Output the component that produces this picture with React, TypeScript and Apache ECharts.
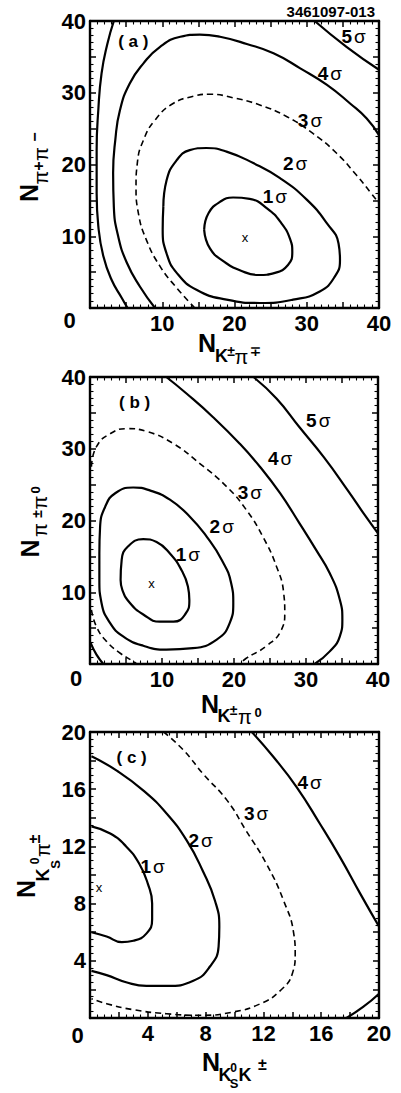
import React, { useEffect, useRef } from 'react';
import * as echarts from 'echarts';

const W = 401;
const H = 1093;
const FONT = 'Liberation Sans, Arial, Helvetica, DejaVu Sans, sans-serif';

// ---------- Panel (a) ----------
const a1: number[][] = [[15.8,10.9],[16.4,13.2],[18.0,14.8],[19.8,15.4],[22.1,15.2],[24.5,13.9],[26.5,11.8],[27.7,9.6],[28.0,7.8],[27.4,6.0],[25.6,4.9],[23.3,4.6],[20.9,5.2],[18.5,6.5],[16.6,8.3],[15.8,10.9]];
const a2: number[][] = [[10.15,14.1],[10.6,17.8],[12.0,20.6],[13.8,22.0],[16.1,22.3],[18.9,21.8],[22.6,20.2],[26.3,18.1],[30.0,15.1],[32.8,11.8],[34.4,9.0],[34.6,6.7],[33.9,4.4],[31.8,2.3],[28.1,1.16],[23.5,0.7],[18.9,1.16],[14.8,2.5],[12.0,4.9],[10.6,7.6],[10.06,10.9],[10.15,14.1]];
const a3: number[][] = [[14.5,0],[12.0,2.8],[9.7,5.8],[7.8,9.5],[6.7,13.2],[6.37,16.9],[6.55,20.2],[7.4,23.4],[9.0,26.2],[11.5,28.5],[14.3,29.5],[16.6,29.8],[19.8,29.3],[23.5,28.3],[27.2,26.7],[30.9,24.3],[34.1,21.6],[36.9,18.5],[38.75,16.2],[40,14.6]];
const a4: number[][] = [[9.0,0],[6.9,3.0],[5.1,6.3],[3.9,10.0],[3.3,14.1],[3.2,18.8],[3.5,23.4],[4.15,27.6],[5.5,31.3],[7.4,34.1],[9.7,36.4],[12.5,37.8],[15.2,38.1],[18.0,37.8],[21.7,36.8],[25.4,35.5],[29.1,33.4],[32.8,31.1],[36.0,28.5],[38.3,26.4],[40,24.1]];
const a5left: number[][] = [[3.3,40],[2.4,36.8],[1.6,32.7],[1.15,27.6],[0.92,22.0],[0.92,16.0],[1.15,11.4],[1.85,7.2],[3.0,3.9],[4.4,1.4],[5.2,0]];
const a5right: number[][] = [[31.1,40],[35.5,36.4],[40,33.2]];
const labelsA: (number | string)[][] = [[36.5,37.8,'5'],[33.2,32.7,'4'],[30.45,26.2,'3'],[28.4,20.2,'2'],[25.6,15.5,'1']];
const bestA: number[] = [21.45, 9.87];
const tagA: (number | string)[] = [6.0, 37.1, '( a )'];

// ---------- Panel (b) ----------
const b1: number[][] = [[4.25,11.7],[4.4,14.5],[5.3,16.4],[7.4,17.4],[9.25,17.0],[11.1,15.4],[12.7,13.1],[13.6,10.8],[13.8,8.9],[13.2,6.9],[11.6,5.9],[9.7,5.9],[7.4,6.9],[5.55,8.5],[4.5,10.3],[4.25,11.7]];
const b2: number[][] = [[1.3,15.4],[1.4,19.1],[2.1,21.9],[3.5,23.8],[6.0,24.6],[8.3,24.2],[11.1,22.9],[13.9,20.5],[16.2,17.75],[18.3,14.5],[19.6,11.3],[19.9,8.5],[19.4,5.7],[17.6,3.4],[14.3,2.2],[10.6,2.0],[7.4,2.55],[4.6,3.85],[2.8,5.7],[1.6,8.5],[1.3,11.7],[1.3,15.4]];
const b3main: number[][] = [[0.2,27.5],[0.9,30.3],[2.8,32.1],[5.1,32.8],[7.9,32.4],[11.6,30.7],[15.3,27.9],[19.0,24.7],[21.7,21.5],[24.0,17.75],[25.9,13.6],[26.9,9.9],[27.05,7.1],[26.6,4.8],[24.5,2.5],[21.7,0.8],[20.8,0]];
const b3low: number[][] = [[0.2,7.55],[0.9,5.2],[2.3,3.15],[4.2,1.5],[6.0,0.37],[6.5,0]];
const b4main: number[][] = [[10.6,40],[13.4,37.7],[17.1,34.4],[20.8,30.7],[23.6,27.5],[26.4,23.8],[29.1,19.6],[31.4,15.9],[33.3,12.65],[34.7,8.95],[35.05,6.2],[34.7,3.85],[33.3,1.76],[31.2,0]];
const b4low: number[][] = [[0.1,2.9],[0.9,1.3],[1.85,0]];
const b5: number[][] = [[22.7,40],[25.9,37.0],[29.1,33.0],[32.5,28.8],[35.8,24.2],[38.2,20.7],[40,18.2]];
const labelsB: (number | string)[][] = [[31.7,33.9,'5'],[26.4,28.7,'4'],[22.2,23.9,'3'],[18.3,19.2,'2'],[13.6,15.3,'1']];
const bestB: number[] = [8.55, 11.2];
const tagB: (number | string)[] = [6.2, 36.4, '( b )'];

// ---------- Panel (c) ----------
const c1: number[][] = [[0.1,13.4],[1.4,12.9],[2.5,12.0],[3.4,10.8],[4.0,9.4],[4.3,8.0],[4.3,6.9],[3.9,5.9],[3.0,5.4],[2.2,5.3],[1.15,5.7],[0.1,6.0]];
const c2: number[][] = [[0.1,18.3],[1.85,17.3],[3.7,15.9],[5.3,14.3],[6.7,12.4],[7.8,10.3],[8.65,8.2],[8.95,6.4],[8.9,5.0],[8.3,3.6],[7.15,2.6],[5.3,2.24],[3.9,2.24],[2.5,2.5],[1.15,3.0],[0.1,3.3]];
const c3: number[][] = [[5.1,20],[6.5,18.7],[7.8,17.1],[9.5,15.2],[10.8,13.1],[12.2,10.8],[13.4,8.2],[14.1,5.9],[14.2,4.5],[14.0,3.1],[13.15,1.9],[11.8,1.0],[9.9,0.42],[7.6,0.19],[5.3,0.3],[3.0,0.58],[1.15,1.0],[0.1,1.35]];
const c4: number[][] = [[11.2,20],[12.7,18.25],[14.3,16.15],[15.9,13.6],[17.3,11.25],[18.7,8.7],[20,6.4]];
const c4low: number[][] = [[17.75,0],[18.9,0.77],[20,1.7]];
const labelsC: (number | string)[][] = [[15.2,16.5,'4'],[11.5,14.3,'3'],[7.66,12.4,'2'],[4.34,10.56,'1']];
const bestC: number[] = [0.62, 9.16];
const tagC: (number | string)[] = [2.88, 18.2, '( c )'];

// axis ranges / ticks
const axisMax = [40, 40, 20];
const majorStep = [5, 5, 2];
const minorSplit = [5, 5, 4];
const labelStep = [10, 10, 4];

// layout of the three plot frames
const grids = [
  { left: 90, top: 21, width: 289, height: 287 },
  { left: 90, top: 377, width: 288, height: 287 },
  { left: 90, top: 732, width: 289, height: 286 },
];

type Piece = [string, number, number, number, string];

function textEl(t: string, x: number, y: number, size: number, weight: string) {
  return {
    type: 'text',
    x,
    y,
    silent: true,
    style: {
      text: t,
      fontSize: size,
      fontWeight: weight,
      fontFamily: FONT,
      fill: '#000',
      align: 'center',
      verticalAlign: 'middle',
      textAlign: 'center',
      textVerticalAlign: 'middle',
    },
  };
}

function titleGroup(x: number, y: number, rotated: boolean, pieces: Piece[]) {
  return {
    type: 'group',
    x,
    y,
    rotation: rotated ? Math.PI / 2 : 0,
    children: pieces.map((p) => textEl(p[0], p[1], p[2], p[3], p[4])),
  };
}

export default function App() {
  const ref = useRef<HTMLDivElement>(null);

  useEffect(() => {
    const chart = echarts.init(ref.current as HTMLDivElement, null, { renderer: 'svg' });

    const xAxes: any[] = [];
    const yAxes: any[] = [];
    grids.forEach((_, i) => {
      const common = {
        gridIndex: i,
        type: 'value',
        min: 0,
        max: axisMax[i],
        interval: majorStep[i],
        splitLine: { show: false },
        axisLine: { show: true, onZero: false, lineStyle: { color: '#000', width: 2.4 } },
        axisTick: { show: true, inside: true, length: 6, lineStyle: { color: '#000', width: 1.5 } },
        minorTick: { show: true, splitNumber: minorSplit[i], length: 3.5, lineStyle: { color: '#000', width: 1.1 } },
      };
      const lab = {
        show: true,
        color: '#000',
        fontSize: 22,
        fontWeight: 'bold',
        fontFamily: FONT,
        formatter: (v: number) => (v !== 0 && v % labelStep[i] === 0 ? String(v) : ''),
      };
      xAxes.push({ ...common, position: 'bottom', axisLabel: { ...lab, margin: 4 } });
      xAxes.push({ ...common, position: 'top', axisLabel: { show: false } });
      yAxes.push({ ...common, position: 'left', axisLabel: { ...lab, margin: 4 } });
      yAxes.push({ ...common, position: 'right', axisLabel: { show: false } });
    });

    const series: any[] = [];
    const addLine = (panel: number, data: number[][], dashed = false) => {
      series.push({
        type: 'line',
        xAxisIndex: panel * 2,
        yAxisIndex: panel * 2,
        data,
        symbol: 'none',
        showSymbol: false,
        smooth: 0.5,
        clip: true,
        silent: true,
        z: 3,
        lineStyle: dashed
          ? { color: '#000', width: 1.6, type: [6, 4] }
          : { color: '#000', width: 2.2, type: 'solid' },
      });
    };
    const labelBase = {
      show: true,
      position: [0, 0],
      align: 'center',
      verticalAlign: 'middle',
      color: '#000',
      opacity: 1,
      textBorderWidth: 0,
      fontFamily: FONT,
    };
    const addLabels = (panel: number, labels: (number | string)[][], best: number[], tag: (number | string)[]) => {
      series.push({
        type: 'scatter',
        xAxisIndex: panel * 2,
        yAxisIndex: panel * 2,
        data: labels,
        symbolSize: 0,
        silent: true,
        z: 5,
        itemStyle: { color: '#000', opacity: 1 },
        label: {
          ...labelBase,
          formatter: (p: any) => `{d|${p.data[2]}}{s|σ}`,
          rich: {
            d: { fontSize: 19, fontWeight: 'bold', fontFamily: FONT, color: '#000', textBorderWidth: 0 },
            s: { fontSize: 19, fontWeight: 'normal', fontFamily: FONT, color: '#000', textBorderWidth: 0, padding: [0, 0, 0, 2] },
          },
        },
      });
      series.push({
        type: 'scatter',
        xAxisIndex: panel * 2,
        yAxisIndex: panel * 2,
        data: [[best[0], best[1], 'x'], tag],
        symbolSize: 0,
        silent: true,
        z: 5,
        itemStyle: { color: '#000', opacity: 1 },
        label: {
          ...labelBase,
          formatter: (p: any) => (p.dataIndex === 0 ? '{x|x}' : `{t|${p.data[2]}}`),
          rich: {
            x: { fontSize: 13, fontWeight: 'normal', fontFamily: FONT, color: '#000', textBorderWidth: 0 },
            t: { fontSize: 17, fontWeight: 'bold', fontFamily: FONT, color: '#000', textBorderWidth: 0 },
          },
        },
      });
    };

    addLine(0, a1); addLine(0, a2); addLine(0, a3, true); addLine(0, a4); addLine(0, a5left); addLine(0, a5right);
    addLabels(0, labelsA, bestA, tagA);
    addLine(1, b1); addLine(1, b2); addLine(1, b3main, true); addLine(1, b3low, true); addLine(1, b4main); addLine(1, b4low); addLine(1, b5);
    addLabels(1, labelsB, bestB, tagB);
    addLine(2, c1); addLine(2, c2); addLine(2, c3, true); addLine(2, c4); addLine(2, c4low);
    addLabels(2, labelsC, bestC, tagC);

    const graphic: any[] = [
      {
        type: 'text',
        right: 26,
        top: 4,
        silent: true,
        style: { text: '3461097-013', fontSize: 15, fontWeight: 'bold', fontFamily: FONT, fill: '#000' },
      },
      textEl('0', 69.5, 320.5, 22, 'bold'),
      textEl('0', 76, 678.5, 22, 'bold'),
      textEl('0', 77.5, 1035.5, 22, 'bold'),
      titleGroup(207, 342.5, false, [
        ['N', 0, 0, 25, 'bold'],
        ['K', 14.5, 13, 18, 'bold'],
        ['±', 24, 8.5, 14, 'bold'],
        ['π', 34.5, 14.5, 20, 'normal'],
        ['∓', 48.5, 8.5, 14, 'bold'],
      ]),
      titleGroup(210, 703.5, false, [
        ['N', 0, 0, 25, 'bold'],
        ['K', 14, 12, 18, 'bold'],
        ['±', 23.5, 6.5, 14, 'bold'],
        ['π', 35, 13.5, 20, 'normal'],
        ['0', 48, 8.5, 13, 'bold'],
      ]),
      titleGroup(211, 1061.5, false, [
        ['N', 0, 0, 25, 'bold'],
        ['K', 14, 13.5, 18, 'bold'],
        ['0', 22.5, 6.5, 12, 'bold'],
        ['S', 23, 22, 13, 'bold'],
        ['K', 34, 13.5, 18, 'bold'],
        ['±', 51.5, 2.5, 16, 'bold'],
      ]),
      titleGroup(28.5, 193, true, [
        ['N', 0, 0, 25, 'bold'],
        ['π', 15.5, 12.5, 20, 'normal'],
        ['+', 27, 9.5, 16, 'bold'],
        ['π', 39, 12.5, 20, 'normal'],
        ['−', 56, 6, 16, 'bold'],
      ]),
      titleGroup(29.5, 548.5, true, [
        ['N', 0, 0, 25, 'bold'],
        ['π', 18.5, 10.5, 20, 'normal'],
        ['±', 34.5, 7.5, 14, 'bold'],
        ['π', 46, 10.5, 20, 'normal'],
        ['0', 58.5, 5.5, 13, 'bold'],
      ]),
      titleGroup(25.5, 889, true, [
        ['N', 0, 0, 25, 'bold'],
        ['K', 14, 17, 18, 'bold'],
        ['0', 28, 9.5, 12, 'bold'],
        ['S', 24.7, 30, 13, 'bold'],
        ['π', 39, 17.8, 20, 'normal'],
        ['±', 50, 8.5, 16, 'bold'],
      ]),
    ];

    chart.setOption({
      animation: false,
      backgroundColor: '#fff',
      grid: grids.map((g) => ({ ...g, containLabel: false, show: false })),
      xAxis: xAxes,
      yAxis: yAxes,
      series,
      graphic,
    });

    return () => chart.dispose();
  }, []);

  return (
    <div
      ref={ref}
      style={{ position: 'absolute', left: 0, top: 0, width: W, height: H, background: '#fff' }}
    />
  );
}
